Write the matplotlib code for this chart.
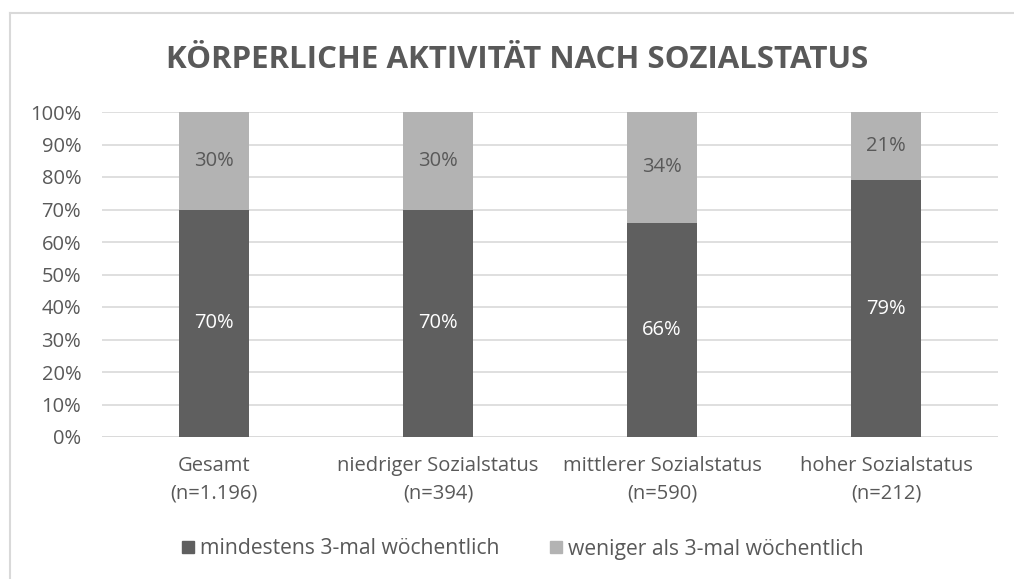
import matplotlib.pyplot as plt
from matplotlib.lines import Line2D
from matplotlib.patches import Patch

categories = ["Gesamt\n(n=1.196)", "niedriger Sozialstatus\n(n=394)",
              "mittlerer Sozialstatus\n(n=590)", "hoher Sozialstatus\n(n=212)"]
mindestens = [70, 70, 66, 79]
weniger = [30, 30, 34, 21]
series_names = ["mindestens 3-mal wöchentlich", "weniger als 3-mal wöchentlich"]

dark = "#5f5f5f"
light = "#b3b3b3"
text_col = "#595959"
fs = 14.5

plt.rcParams['font.family'] = ['Open Sans', 'DejaVu Sans']

fig = plt.figure(figsize=(10.14, 5.79), dpi=100)
ax = fig.add_axes([102 / 1014, 1 - 437 / 579, (998 - 102) / 1014, (437 - 112) / 579])

x = range(len(categories))
ax.bar(x, mindestens, width=0.31, color=dark, zorder=3)
ax.bar(x, weniger, width=0.31, bottom=mindestens, color=light, zorder=3)

for i in x:
    ax.text(i, mindestens[i] / 2, f"{mindestens[i]}%", ha='center', va='center',
            color='white', fontsize=fs, zorder=4)
    ax.text(i, mindestens[i] + weniger[i] / 2, f"{weniger[i]}%", ha='center', va='center',
            color=text_col, fontsize=fs, zorder=4)

ax.set_xlim(-0.5, len(categories) - 0.5)
ax.set_ylim(0, 100)
ax.set_yticks(range(0, 101, 10))
ax.set_yticklabels([f"{v}%" for v in range(0, 101, 10)])
ax.set_xticks(list(x))
ax.set_xticklabels(categories, linespacing=1.5)
ax.grid(axis='y', color='#d9d9d9', linewidth=1.2, zorder=0)
ax.tick_params(axis='both', length=0, colors=text_col, labelsize=fs)
ax.tick_params(axis='x', pad=14)
ax.tick_params(axis='y', pad=15)
for s in ax.spines.values():
    s.set_visible(False)
ax.axhline(0, color='#d9d9d9', linewidth=1.2, zorder=1)

fig.text(517 / 1014, 1 - 60 / 579, "KÖRPERLICHE AKTIVITÄT NACH SOZIALSTATUS", ha='center', va='center',
         fontsize=22.5, fontweight='bold', color=text_col)

handles = [Patch(color=dark), Patch(color=light)]
fig.legend(handles, series_names, loc='center', bbox_to_anchor=(523 / 1014, 1 - 549 / 579),
           ncol=2, frameon=False, fontsize=15.2, labelcolor=text_col,
           handlelength=0.55, handleheight=0.55, handletextpad=0.3, columnspacing=2.4)

# chart border (cropped at right and bottom)
fig.add_artist(Line2D([10 / 1014, 1], [1 - 13 / 579] * 2, color='#d9d9d9', linewidth=1.5))
fig.add_artist(Line2D([10 / 1014] * 2, [0, 1 - 13 / 579], color='#d9d9d9', linewidth=1.5))

fig.savefig("out.png", dpi=100, facecolor='white')
